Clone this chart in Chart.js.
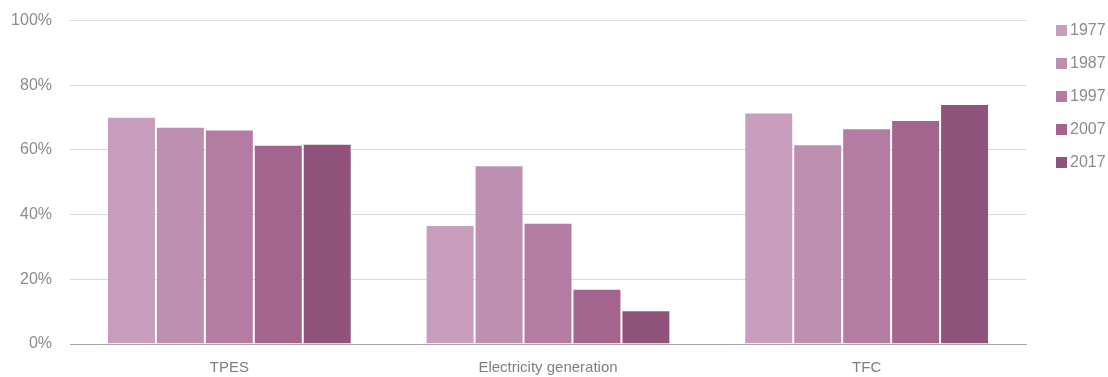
<!DOCTYPE html>
<html>
<head>
<meta charset="utf-8">
<script src="https://cdn.jsdelivr.net/npm/chart.js@4.4.1/dist/chart.umd.min.js"></script>
<style>
  html, body { margin: 0; padding: 0; background: #fff; overflow: hidden; }
  #wrap { width: 1108px; height: 399px; position: relative; margin-top: -7px; }
  #legend { position: absolute; left: 1056px; top: 26px; margin: 0; padding: 0; list-style: none;
            font-family: 'Liberation Sans', Arial, sans-serif; font-size: 16px; color: #8c8c8c; }
  #legend li { display: flex; align-items: center; height: 22px; margin-bottom: 11px; }
  #legend span { display: inline-block; width: 11px; height: 11px; margin-right: 3px; }
</style>
</head>
<body>
<div id="wrap"><canvas id="shareChart"></canvas><ul id="legend"></ul></div>
<script>
// Categories and series
const categories = ['TPES', 'Electricity generation', 'TFC'];
const years = ['1977', '1987', '1997', '2007', '2017'];
const share1977 = [70.3, 36.8, 71.6];
const share1987 = [67.2, 55.3, 61.8];
const share1997 = [66.3, 37.5, 66.7];
const share2007 = [61.6, 17.1, 69.3];
const share2017 = [61.9, 10.4, 74.2];
const yTicks = [0, 20, 40, 60, 80, 100];

const seriesValues = [share1977, share1987, share1997, share2007, share2017];
const colors = ['#c89dbd', '#bd8fb0', '#b47ca2', '#a3648e', '#8f537c'];

const font = "'Liberation Sans', Arial, sans-serif";

const ctx = document.getElementById('shareChart').getContext('2d');
const shareChart = new Chart(ctx, {
    type: 'bar',
    data: {
        labels: categories,
        datasets: years.map((y, i) => ({
            label: y,
            data: seriesValues[i],
            backgroundColor: colors[i],
            borderColor: 'rgba(255,255,255,0.13)',
            borderWidth: 1,
            categoryPercentage: 0.768,
            barPercentage: 1.0
        }))
    },
    options: {
        responsive: true,
        maintainAspectRatio: false,
        animation: false,
        layout: { padding: { left: 0, top: 3, right: 82, bottom: 0 } },
        plugins: {
            tooltip: { enabled: false },
            legend: { display: false }
        },
        scales: {
            x: {
                grid: { display: false, drawTicks: false },
                border: { color: '#a6a6a6', width: 1 },
                ticks: { color: '#7f7f7f', padding: 15, font: { family: font, size: 15 } }
            },
            y: {
                min: 0,
                max: 100,
                afterBuildTicks: axis => { axis.ticks = yTicks.map(v => ({ value: v })); },
                afterFit: axis => { axis.width = 70; },
                grid: { color: '#d9d9d9', drawTicks: false },
                border: { display: false },
                ticks: {
                    color: '#8c8c8c',
                    padding: 18,
                    font: { family: font, size: 16 },
                    callback: v => v + '%'
                }
            }
        }
    }
});

// legend built from the same series names and colours
const legend = document.getElementById('legend');
years.forEach((y, i) => {
    const li = document.createElement('li');
    li.innerHTML = '<span style="background:' + colors[i] + '"></span>' + y;
    legend.appendChild(li);
});
</script>
</body>
</html>
